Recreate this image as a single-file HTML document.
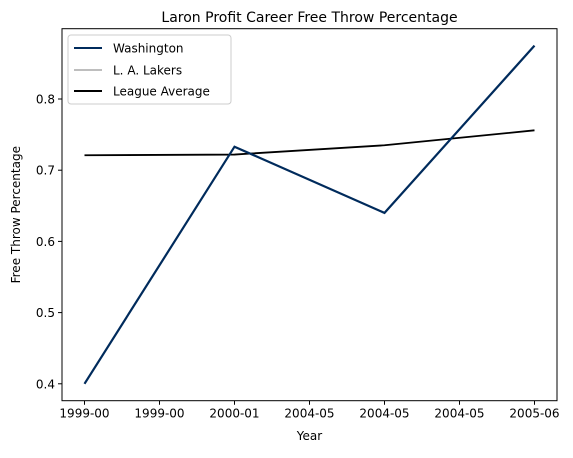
<!DOCTYPE html>
<html><head><meta charset="utf-8"><style>
body{margin:0;background:#fff;}
svg text{font-family:"DejaVu Sans","Liberation Sans",sans-serif;fill:#000;}
</style></head><body>
<svg width="573" height="453" viewBox="0 0 573 453">
<rect x="0" y="0" width="573" height="453" fill="#fff"/>
<text x="309.5" y="22" font-size="14" text-anchor="middle">Laron Profit Career Free Throw Percentage</text>
<g id="plot"></g>
<rect x="62" y="28.7" width="495" height="372" fill="none" stroke="#000" stroke-width="1"/>
<text x="309.5" y="440" font-size="12" text-anchor="middle">Year</text>
<text transform="translate(20,214.7) rotate(-90)" font-size="12" text-anchor="middle">Free Throw Percentage</text>
<g>
<rect x="68" y="35" width="163" height="69" rx="3" fill="#fff" stroke="#ccc"/>
<line x1="74" y1="48" x2="102" y2="48" stroke="#002b5c" stroke-width="2"/>
<text x="113" y="52.5" font-size="12">Washington</text>
<line x1="74" y1="70" x2="102" y2="70" stroke="#bebebe" stroke-width="2"/>
<text x="113" y="74.5" font-size="12">L. A. Lakers</text>
<line x1="74" y1="91" x2="102" y2="91" stroke="#000" stroke-width="2"/>
<text x="113" y="95.5" font-size="12">League Average</text>
</g>
</svg>
<script>
const xLabels=["1999-00","1999-00","2000-01","2004-05","2004-05","2004-05","2005-06"];
const yTicks=[0.4,0.5,0.6,0.7,0.8];
const washX=[0,2,4,6];
const washY=[0.400,0.733,0.640,0.875];
const leagueX=[0,2,4,6];
const leagueY=[0.721,0.722,0.735,0.756];
const NS="http://www.w3.org/2000/svg";
const L=62,R=557,T=28.7,B=400.7;
const xmin=-0.3,xmax=6.3,ymin=0.37625,ymax=0.89875;
const sx=v=>L+(v-xmin)/(xmax-xmin)*(R-L);
const sy=v=>B-(v-ymin)/(ymax-ymin)*(B-T);
const g=document.getElementById('plot');
function mk(t,a){const e=document.createElementNS(NS,t);for(const k in a)e.setAttribute(k,a[k]);g.appendChild(e);return e;}
xLabels.forEach((lab,i)=>{
const tk=mk('line',{x1:sx(i),x2:sx(i),y1:B,y2:B+4,stroke:'#000'});


const t=mk('text',{x:sx(i),y:B+17,'font-size':12,'text-anchor':'middle'});
t.textContent=lab;


});
yTicks.forEach(v=>{
const tk=mk('line',{x1:L-4,x2:L,y1:sy(v),y2:sy(v),stroke:'#000'});


const t=mk('text',{x:L-7,y:sy(v)+4.5,'font-size':12,'text-anchor':'end'});
t.textContent=v.toFixed(1);


});
const pl=mk('polyline',{points:leagueX.map((x,i)=>sx(x)+','+sy(leagueY[i])).join(' '),fill:'none',stroke:'#000','stroke-width':1.8});


const pw=mk('polyline',{points:washX.map((x,i)=>sx(x)+','+sy(washY[i])).join(' '),fill:'none',stroke:'#002b5c','stroke-width':2.2});


</script>
</body></html>
